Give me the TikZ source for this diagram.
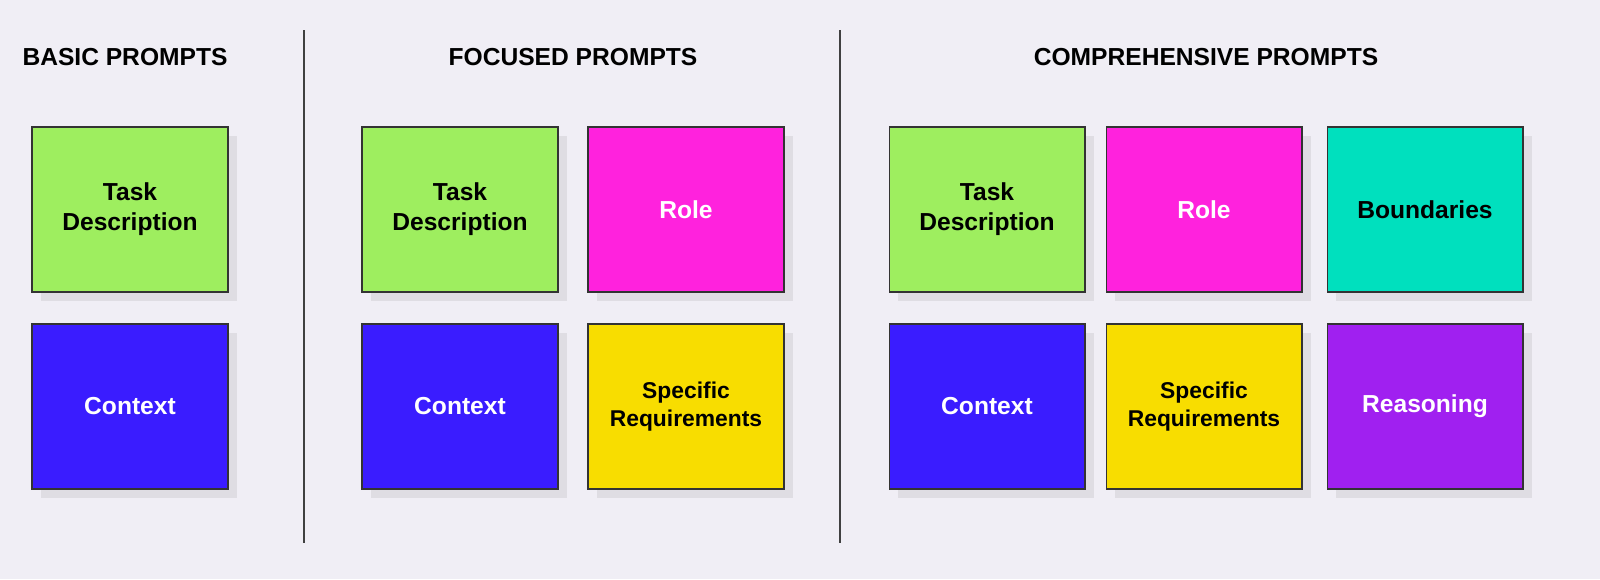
\documentclass[tikz,border=0pt]{standalone}
\usepackage{fontspec}
\setmainfont{Liberation Sans}
\usetikzlibrary{positioning, shadows}
\definecolor{bgcol}{HTML}{F0EEF5}
\definecolor{taskcol}{HTML}{9EEE5F}
\definecolor{rolecol}{HTML}{FF22DD}
\definecolor{boundcol}{HTML}{00E0BE}
\definecolor{ctxcol}{HTML}{3A1CFF}
\definecolor{reqcol}{HTML}{F8DD00}
\definecolor{reascol}{HTML}{A020F0}
\begin{document}
\begin{tikzpicture}[
        x=0.02cm, y=-0.02cm,
        card/.style={draw=black!80, line width=0.6pt, minimum width=3.92cm, minimum height=3.3cm, align=center,
            font=\fontsize{14}{17}\selectfont\bfseries,
            drop shadow={opacity=0.15, shadow xshift=5pt, shadow yshift=-5pt}},
        heading/.style={font=\fontsize{14}{17}\selectfont\bfseries},
        divider/.style={draw=black!75, line width=0.8pt}
    ]
    
    % Hintergrund
    \fill[bgcol] (0,0) rectangle (1600,579);
    
    % Titel
    \node[heading] (basic_title) at (125,57) {BASIC PROMPTS};
    \node[heading] (focused_title) at (573,57) {FOCUSED PROMPTS};
    \node[heading] (comp_title) at (1206,57) {COMPREHENSIVE PROMPTS};
    
    % Trennlinien
    \coordinate (div1_top) at (304,30);
    \coordinate (div1_bot) at (304,543);
    \coordinate (div2_top) at (840,30);
    \coordinate (div2_bot) at (840,543);
    \draw[divider] (div1_top) -- (div1_bot);
    \draw[divider] (div2_top) -- (div2_bot);
    
    % Basic
    \node[card, fill=taskcol] (basic_task) at (130,209.5) {Task\\Description};
    \node[card, fill=ctxcol, text=white] (basic_ctx) at (130,406.5) {Context};
    
    % Focused
    \node[card, fill=taskcol] (foc_task) at (460,209.5) {Task\\Description};
    \node[card, fill=rolecol, text=white] (foc_role) at (686,209.5) {Role};
    \node[card, fill=ctxcol, text=white] (foc_ctx) at (460,406.5) {Context};
    \node[card, fill=reqcol, font=\fontsize{13}{16}\selectfont\bfseries] (foc_req) at (686,406.5) {Specific\\Requirements};
    
    % Comprehensive
    \node[card, fill=taskcol] (comp_task) at (987,209.5) {Task\\Description};
    \node[card, fill=rolecol, text=white] (comp_role) at (1204,209.5) {Role};
    \node[card, fill=boundcol] (comp_bound) at (1425,209.5) {Boundaries};
    \node[card, fill=ctxcol, text=white] (comp_ctx) at (987,406.5) {Context};
    \node[card, fill=reqcol, font=\fontsize{13}{16}\selectfont\bfseries] (comp_req) at (1204,406.5) {Specific\\Requirements};
    \node[card, fill=reascol, text=white] (comp_reas) at (1425,406.5) {Reasoning};
    
\end{tikzpicture}
\end{document}
